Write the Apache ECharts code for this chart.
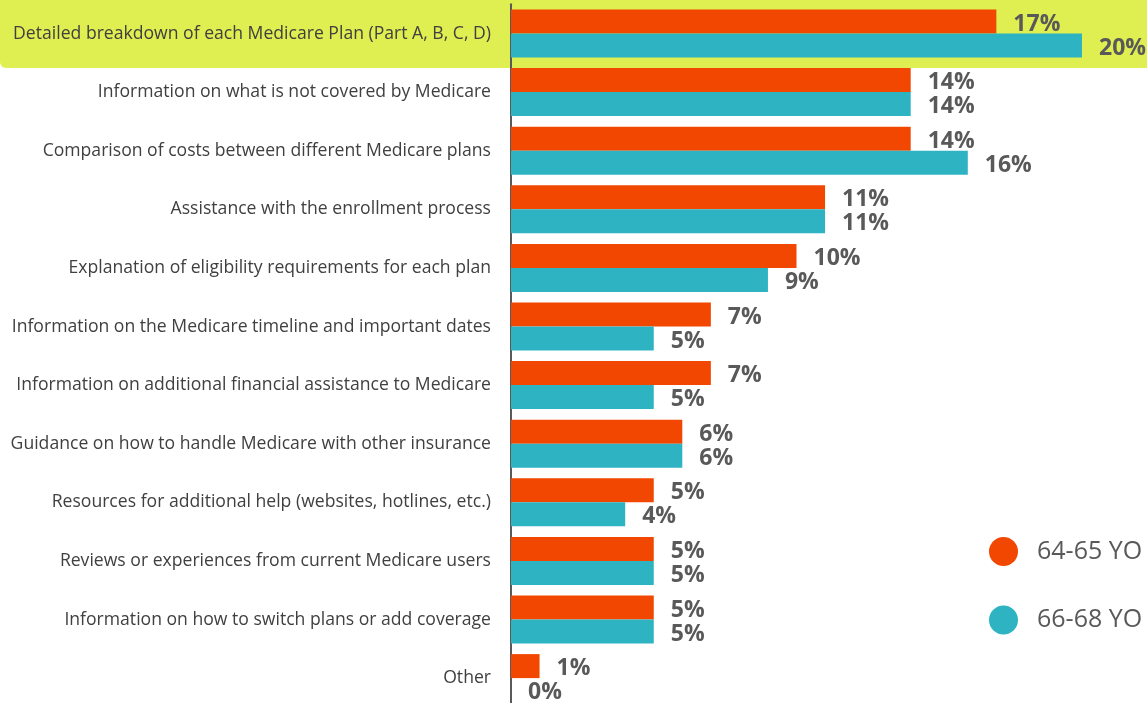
<!DOCTYPE html>
<html><head><meta charset="utf-8">
<script src="https://cdn.jsdelivr.net/npm/echarts@6/dist/echarts.min.js"></script>
<style>html,body{margin:0;padding:0;background:#fff;overflow:hidden;width:1147px;height:703px}#c{width:1147px;height:712px}</style>
</head><body><div id="c"></div>
<script>
const categories = [
  "Detailed breakdown of each Medicare Plan (Part A, B, C, D)",
  "Information on what is not covered by Medicare",
  "Comparison of costs between different Medicare plans",
  "Assistance with the enrollment process",
  "Explanation of eligibility requirements for each plan",
  "Information on the Medicare timeline and important dates",
  "Information on additional financial assistance to Medicare",
  "Guidance on how to handle Medicare with other insurance",
  "Resources for additional help (websites, hotlines, etc.)",
  "Reviews or experiences from current Medicare users",
  "Information on how to switch plans or add coverage",
  "Other"
];
const group1Name = "64-65 YO";
const group2Name = "66-68 YO";
const group1 = [17, 14, 14, 11, 10, 7, 7, 6, 5, 5, 5, 1];
const group2 = [20, 14, 16, 11, 9, 5, 5, 6, 4, 5, 5, 0];

const font = "'Open Sans', 'Noto Sans', sans-serif";
const chart = echarts.init(document.getElementById('c'), null, {renderer: 'canvas'});
const labelCfg = {
  show: true, position: 'right', distance: 17, offset: [0, 2.5],
  formatter: p => p.value + '%',
  fontFamily: font, fontWeight: 'bold', fontSize: 23, color: '#595959'
};
chart.setOption({
  animation: false,
  backgroundColor: '#ffffff',
  graphic: [{
    type: 'rect', z: -10, silent: true,
    shape: {x: 0, y: 0, width: 1147, height: 68, r: [0, 0, 0, 6]},
    style: {fill: '#dfee50'}
  }],
  grid: {left: 511, right: 65, top: 4.2, height: 703.2, containLabel: false},
  xAxis: {type: 'value', min: 0, max: 20, show: false},
  yAxis: {
    type: 'category', data: categories, inverse: true,
    axisLine: {show: true, lineStyle: {color: '#595959', width: 2}},
    axisTick: {show: false},
    axisLabel: {margin: 20, fontFamily: font, fontSize: 17.6, color: '#404040'}
  },
  legend: {
    orient: 'vertical', left: 984, top: 532,
    itemWidth: 29, itemHeight: 29, itemGap: 39.5,
    icon: 'circle',
    textStyle: {fontFamily: font, fontSize: 25, color: '#595959', padding: [0, 0, 0, 14]},
    data: [group1Name, group2Name]
  },
  series: [
    {name: group1Name, type: 'bar', data: group1, barWidth: 24, barGap: '0%',
     itemStyle: {color: '#f24700'}, label: labelCfg},
    {name: group2Name, type: 'bar', data: group2, barWidth: 24, barGap: '0%',
     itemStyle: {color: '#2eb3c3'}, label: labelCfg}
  ]
});
</script></body></html>
